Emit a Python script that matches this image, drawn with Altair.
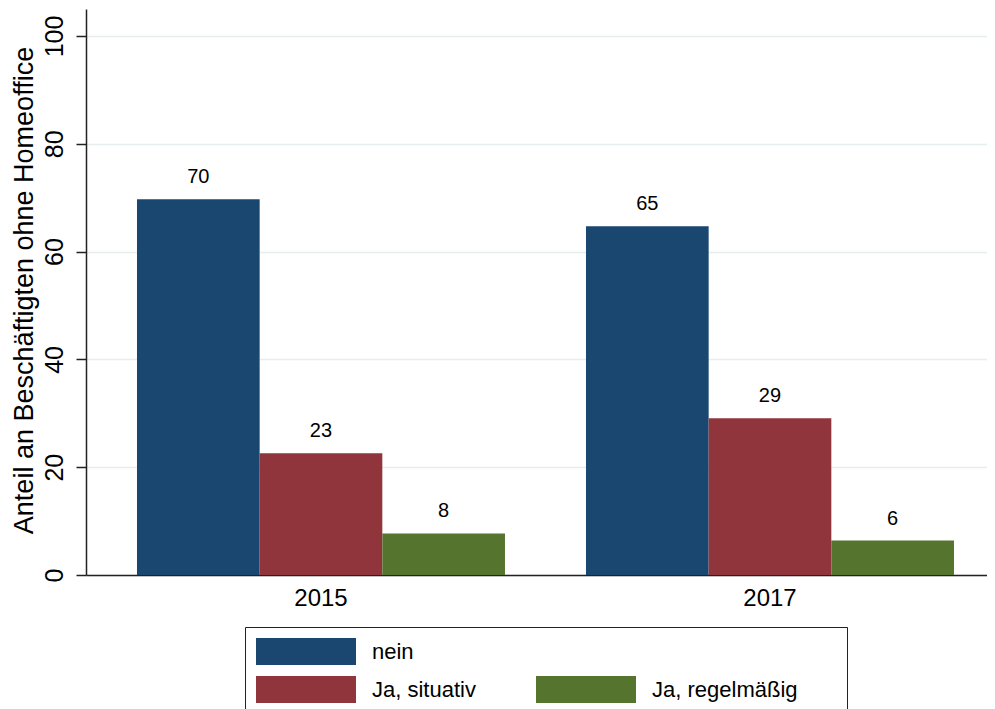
import altair as alt
import pandas as pd

years = ["2015", "2017"]
categories = ["nein", "Ja, situativ", "Ja, regelmäßig"]
nein = [69.7, 64.7]
situativ = [22.6, 29.1]
regelmaessig = [7.7, 6.4]
y_ticks = [0, 20, 40, 60, 80, 100]

rows = []
for i, yr in enumerate(years):
    for cat, vals in zip(categories, [nein, situativ, regelmaessig]):
        rows.append({"Jahr": yr, "Kategorie": cat, "Wert": vals[i]})
df = pd.DataFrame(rows)

FONT = "Liberation Sans"
BLANK = "leer"
legend_domain = ["nein", BLANK, "Ja, situativ", "Ja, regelmäßig"]
legend_range = ["#1a476f", "rgba(0,0,0,0)", "#90353b", "#55752f"]
blank_label = "0" * 15

x_enc = alt.X(
    "Jahr:N",
    sort=years,
    scale=alt.Scale(paddingInner=0.1804, paddingOuter=0.09354, align=0.607),
    axis=alt.Axis(
        title=None, ticks=False, grid=False, labelAngle=0,
        labelFontSize=24, labelFont=FONT, labelColor="black",
        labelBaseline="alphabetic", labelPadding=30,
        domainColor="#222222", domainWidth=1.5,
    ),
)
xoff_enc = alt.XOffset("Kategorie:N", sort=categories,
                       scale=alt.Scale(domain=categories, paddingInner=0, paddingOuter=0))
y_enc = alt.Y(
    "Wert:Q",
    scale=alt.Scale(domain=[0, 105], nice=False, zero=True),
    axis=alt.Axis(
        title="Anteil an Beschäftigten ohne Homeoffice",
        values=y_ticks, labelAngle=270, labelAlign="center", labelBaseline="alphabetic",
        labelPadding=14, labelFontSize=25, labelFont=FONT, labelColor="black",
        tickSize=10, tickWidth=1.5, tickColor="#222222",
        domainColor="#222222", domainWidth=1.5,
        grid=True, gridColor="#e6eef0", gridWidth=1.5,
        titleFontSize=27, titleFont=FONT, titleFontWeight="normal", titleColor="black",
        titleX=-54, titleY=281, titleBaseline="alphabetic", titleAngle=270,
        labelOverlap=False,
    ),
)

color_enc = alt.Color(
    "Kategorie:N",
    scale=alt.Scale(domain=legend_domain, range=legend_range),
    legend=alt.Legend(
        title=None, orient="none", legendX=159, legendY=618,
        columns=2, direction="horizontal",
        symbolType="M-1,-0.27H1V0.27H-1Z", symbolSize=10000, clipHeight=27,
        symbolStrokeWidth=0, symbolOpacity=1,
        rowPadding=11, columnPadding=60, labelOffset=16, padding=11,
        labelFontSize=22, labelFont=FONT, labelLimit=400,
        labelColor=alt.ExprRef(expr=f"datum.value == '{BLANK}' ? 'rgba(0,0,0,0)' : 'black'"),
        strokeColor="#222222", fillColor="white",
        labelExpr=f"datum.value == '{BLANK}' ? '{blank_label}' : datum.label",
    ),
)

bars = alt.Chart(df).mark_bar(strokeWidth=0).encode(
    x=x_enc, xOffset=xoff_enc, y=y_enc, color=color_enc
)

labels = alt.Chart(df).mark_text(
    dy=-16, baseline="alphabetic", fontSize=20, font=FONT, color="black"
).encode(
    x=alt.X("Jahr:N", sort=years),
    xOffset=alt.XOffset("Kategorie:N", sort=categories),
    y="Wert:Q",
    text=alt.Text("Wert:Q", format=".0f"),
)

chart = alt.layer(bars, labels).properties(
    width=901, height=566,
    autosize=alt.AutoSizeParams(type="none"),
    padding={"left": 78, "top": 1, "right": 0, "bottom": 134},
    background="white",
).configure_view(stroke=None)

chart.save("out.html", embed_options={"renderer": "svg", "actions": False})
